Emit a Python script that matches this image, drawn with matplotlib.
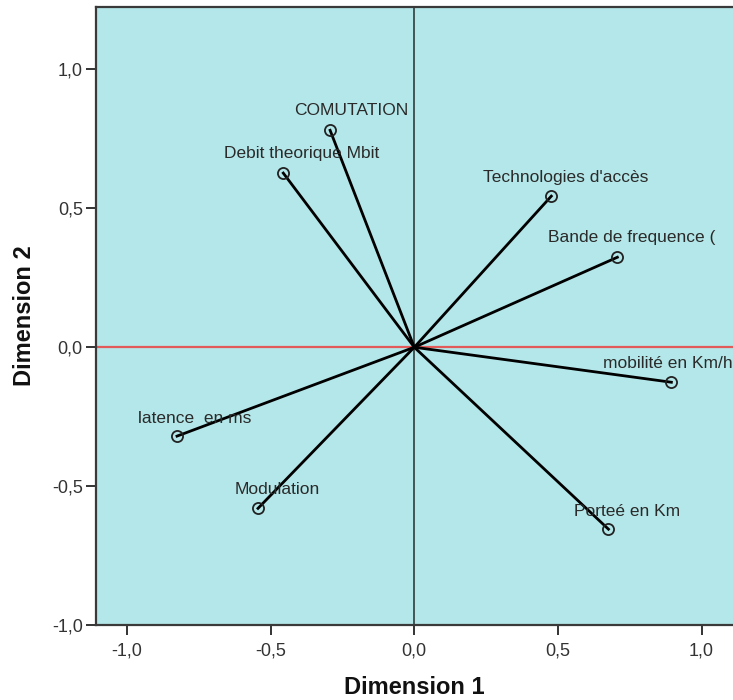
import matplotlib.pyplot as plt

plt.rcParams['font.family'] = ['Liberation Sans', 'DejaVu Sans']

# variable coordinates on the two dimensions
labels = ['COMUTATION', 'Debit theorique Mbit', "Technologies d'accès",
          'Bande de frequence (', 'mobilité en Km/h', 'latence  en ms',
          'Modulation', 'Porteé en Km']
dim1 = [-0.293, -0.456, 0.477, 0.707, 0.895, -0.826, -0.544, 0.676]
dim2 = [0.781, 0.627, 0.544, 0.324, -0.126, -0.320, -0.580, -0.655]

x_ticks = [-1.0, -0.5, 0.0, 0.5, 1.0]
y_ticks = [-1.0, -0.5, 0.0, 0.5, 1.0]

# label offsets from each point (pixels, left edge / vertical centre)
offsets = [(-36, 20), (-59, 20), (-68, 19), (-69, 20), (-68, 19),
           (-39, 18), (-23, 19), (-34, 18)]

fig = plt.figure(figsize=(7.33, 7.0), dpi=100)
ax = fig.add_axes([96 / 733, 75 / 700, 640 / 733, 618 / 700])
ax.set_facecolor('#b4e7e9')

ax.axvline(0, color='#3a4a4a', lw=1.3, zorder=1)
ax.axhline(0, color='#e35a5a', lw=1.6, zorder=1)

for x, y, lab, (dx, dy) in zip(dim1, dim2, labels, offsets):
    ax.plot([0, x], [0, y], color='black', lw=2.0, zorder=2)
    ax.plot(x, y, 'o', ms=8, mfc='none', mec='#222222', mew=1.3, zorder=3)
    ax.annotate(lab, (x, y), xytext=(dx * 0.72, dy * 0.72),
                textcoords='offset points', ha='left', va='center',
                fontsize=12.5, color='#2a2a2a', zorder=4)

ax.set_xlim(-1.108, 1.12)
ax.set_ylim(-1.0, 1.225)
ax.set_xticks(x_ticks)
ax.set_yticks(y_ticks)
fmt = lambda v: f'{v:.1f}'.replace('.', ',')
ax.set_xticklabels([fmt(v) for v in x_ticks])
ax.set_yticklabels([fmt(v) for v in y_ticks])
ax.tick_params(length=7.5, width=1.4, color='#333333', labelcolor='#333333',
               labelsize=13)
ax.tick_params(axis='x', pad=5)
ax.tick_params(axis='y', pad=2)

for s in ax.spines.values():
    s.set_color('#3a3a3a')
    s.set_linewidth(1.6)

ax.set_xlabel('Dimension 1', fontsize=17, fontweight='bold', color='#111111')
ax.set_ylabel('Dimension 2', fontsize=17, fontweight='bold', color='#111111')
ax.xaxis.set_label_coords(0.497, -0.082)
ax.yaxis.set_label_coords(-0.094, 0.5)

fig.savefig('out.png', dpi=100)
